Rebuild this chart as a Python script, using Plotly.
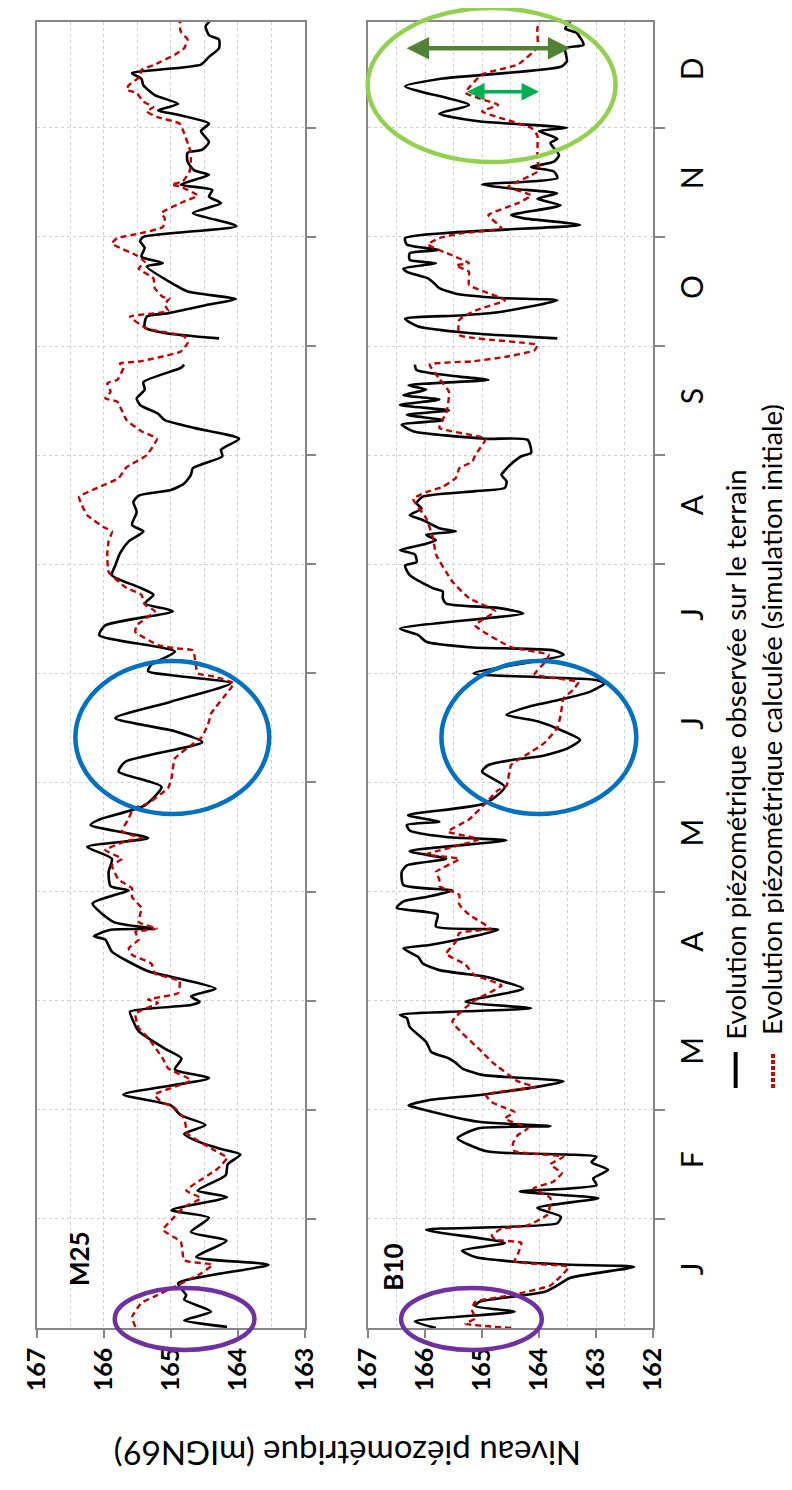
import plotly.graph_objects as go

# ---------------- data (time in months from 1 Jan, level in mIGN69) ----------------
months = ["J", "F", "M", "A", "M", "J", "J", "A", "S", "O", "N", "D"]
month_centres = [i + 0.5 for i in range(12)]
month_bounds = [i for i in range(1, 12)]

m25_ticks = [167, 166, 165, 164, 163]
b10_ticks = [167, 166, 165, 164, 163, 162]

m25_obs_t = [0.01, 0.07, 0.15, 0.26, 0.30, 0.41, 0.58, 0.65, 0.80, 0.88, 1.01, 1.08, 1.20, 1.26, 1.40,
             1.50, 1.59, 1.64, 1.71, 1.78, 1.86, 1.95, 2.04, 2.14, 2.29, 2.37, 2.47, 2.56, 2.72, 2.84,
             2.90, 2.96, 2.99, 3.04, 3.11, 3.22, 3.27, 3.45, 3.56, 3.59, 3.65, 3.66, 3.72, 3.89, 3.97,
             4.01, 4.05, 4.18, 4.30, 4.41, 4.49, 4.61, 4.66, 4.79, 4.96, 5.10, 5.19, 5.37, 5.47, 5.59,
             5.74, 5.91, 6.02, 6.08, 6.20, 6.35, 6.44, 6.57, 6.64, 6.72, 6.79, 6.90, 6.99, 7.10, 7.21,
             7.30, 7.36, 7.48, 7.57, 7.63, 7.68, 7.74, 7.82, 7.88, 7.99, 8.05, 8.15, 8.25, 8.32, 8.38,
             8.46, 8.52, 8.60, 8.67, 8.80, 8.83, None, 9.07, 9.12, 9.17, 9.27, 9.30, 9.38, 9.43, 9.50,
             9.56, 9.73, 9.76, 9.82, 9.90, 9.96, 10.00, 10.10, 10.22, 10.31, 10.37, 10.43, 10.48, 10.57,
             10.61, 10.69, 10.77, 10.80, 10.87, 10.97, 11.04, 11.12, 11.16, 11.22, 11.30, 11.39, 11.45,
             11.50, 11.58, 11.65, 11.73, 11.81, 11.85, 11.93, 11.99]
m25_obs_v = [164.16, 164.80, 164.40, 164.80, 164.77, 164.89, 163.54, 164.62, 164.17, 164.70, 164.43, 164.99,
             164.16, 164.60, 164.18, 164.15, 163.96, 164.25, 164.60, 164.80, 164.48, 164.85, 165.00, 165.71,
             164.43, 164.94, 164.84, 165.09, 165.48, 165.58, 165.61, 164.70, 164.57, 164.70, 164.33, 165.00,
             165.34, 165.88, 165.98, 166.15, 165.90, 165.26, 165.85, 166.17, 165.83, 165.63, 165.90, 165.93,
             165.88, 166.25, 165.34, 166.20, 166.07, 165.39, 165.14, 165.78, 165.68, 164.53, 164.94, 165.83,
             165.00, 164.11, 165.34, 165.29, 164.94, 166.07, 165.98, 164.97, 165.39, 165.26, 165.48, 165.88,
             165.83, 165.76, 165.63, 165.41, 165.58, 165.51, 165.56, 165.48, 165.00, 164.80, 164.70, 164.67,
             164.23, 164.25, 163.98, 164.65, 165.09, 165.19, 165.46, 165.51, 165.39, 165.41, 164.85, 164.80,
             None, 164.28, 165.09, 165.39, 165.36, 165.04, 164.43, 164.03, 164.75, 164.94, 165.36, 165.12,
             165.44, 165.39, 165.46, 165.41, 164.02, 164.67, 164.25, 164.43, 164.38, 164.85, 164.43, 164.65,
             164.75, 164.75, 164.53, 164.43, 164.55, 164.43, 164.89, 165.19, 164.89, 165.24, 165.41, 165.44,
             165.58, 164.55, 164.43, 164.28, 164.28, 164.43, 164.48, 164.40]

m25_sim_t = [0.01, 0.10, 0.23, 0.29, 0.38, 0.50, 0.58, 0.62, 0.79, 0.90, 0.99, 1.11, 1.19, 1.26, 1.46,
             1.56, 1.63, 1.78, 1.92, 2.03, 2.07, 2.14, 2.27, 2.38, 2.47, 2.66, 2.75, 2.88, 2.98, 3.01,
             3.07, 3.18, 3.25, 3.34, 3.42, 3.48, 3.56, 3.63, 3.66, 3.72, 3.85, 3.95, 4.03, 4.11, 4.24,
             4.30, 4.38, 4.46, 4.49, 4.55, 4.67, 4.76, 4.81, 4.95, 5.04, 5.22, 5.34, 5.42, 5.56, 5.63,
             5.86, 5.91, 5.97, 6.00, 6.05, 6.21, 6.23, 6.26, 6.38, 6.44, 6.57, 6.63, 6.72, 6.79, 6.93,
             7.09, 7.21, 7.30, 7.34, 7.45, 7.57, 7.62, 7.70, 7.79, 7.89, 8.00, 8.15, 8.22, 8.32, 8.49,
             8.52, 8.58, 8.66, 8.69, 8.80, 8.84, 8.86, 8.95, 9.03, 9.09, 9.16, 9.27, 9.32, 9.38, 9.44,
             9.45, 9.53, 9.62, 9.71, 9.77, 9.83, 9.94, 9.99, 10.03, 10.09, 10.17, 10.22, 10.32, 10.38,
             10.46, 10.48, 10.51, 10.60, 10.72, 10.81, 10.98, 11.04, 11.10, 11.15, 11.19, 11.24, 11.32,
             11.35, 11.39, 11.47, 11.53, 11.58, 11.67, 11.73, 11.81, 11.88, 11.96, 11.99]
m25_sim_v = [165.53, 165.58, 165.44, 165.24, 164.94, 164.55, 164.38, 164.80, 164.85, 165.12, 164.99, 164.80,
             164.55, 164.77, 164.30, 164.16, 164.35, 164.75, 164.80, 164.97, 165.14, 165.24, 164.70, 165.04,
             165.12, 165.34, 165.48, 165.53, 165.19, 165.34, 164.89, 164.87, 165.24, 165.29, 165.58, 165.63,
             165.48, 165.53, 165.21, 165.48, 165.44, 165.58, 165.58, 165.78, 165.88, 165.73, 165.98, 165.68,
             165.44, 165.73, 165.63, 165.56, 165.34, 165.04, 164.99, 164.94, 164.70, 164.53, 164.43, 164.40,
             164.11, 164.06, 164.35, 164.60, 164.62, 164.67, 164.94, 165.19, 165.53, 165.51, 165.24, 165.39,
             165.44, 165.68, 165.93, 165.95, 165.93, 165.88, 166.00, 166.25, 166.35, 166.37, 166.10, 165.78,
             165.66, 165.36, 165.21, 165.44, 165.66, 165.80, 165.98, 165.90, 165.95, 165.80, 165.71, 165.76,
             165.46, 164.85, 164.75, 164.80, 165.36, 165.61, 165.04, 165.09, 165.02, 165.12, 165.24, 165.26,
             165.48, 165.39, 165.51, 165.88, 165.80, 165.48, 165.12, 165.09, 165.14, 164.82, 164.60, 164.85,
             164.99, 164.82, 164.72, 164.70, 164.72, 164.82, 164.87, 165.21, 165.36, 165.26, 165.41, 165.51,
             165.66, 165.63, 165.46, 165.44, 165.24, 164.94, 164.80, 164.75, 164.85, 164.87, 164.82]

b10_obs_t = [0.00, 0.06, 0.15, 0.20, 0.24, 0.29, 0.33, 0.39, 0.46, 0.56, 0.58, 0.61, 0.65, 0.71, 0.78,
             0.90, 0.96, 1.02, 1.10, 1.19, 1.25, 1.31, 1.37, 1.45, 1.52, 1.57, 1.59, 1.62, 1.74, 1.83,
             1.85, 1.89, 2.01, 2.04, 2.09, 2.14, 2.26, 2.32, 2.38, 2.43, 2.47, 2.53, 2.62, 2.76, 2.84,
             2.87, 2.93, 2.99, 3.11, 3.19, 3.22, 3.28, 3.34, 3.40, 3.48, 3.51, 3.65, 3.68, 3.79, 3.85,
             3.91, 3.95, 4.01, 4.06, 4.18, 4.24, 4.30, 4.37, 4.47, 4.50, 4.56, 4.61, 4.64, 4.70, 4.81,
             4.96, 5.10, 5.16, 5.21, 5.24, 5.31, 5.39, 5.47, 5.56, 5.62, 5.70, 5.76, 5.83, 5.91, 5.94,
             6.00, 6.17, 6.21, 6.24, 6.29, 6.35, 6.41, 6.55, 6.60, 6.64, 6.69, 6.75, 6.78, 6.90, 6.99,
             7.02, 7.09, 7.13, 7.18, 7.22, 7.27, 7.30, 7.33, 7.41, 7.45, 7.51, 7.56, 7.62, 7.67, 7.70,
             7.76, 7.82, 7.86, 7.91, 7.99, 8.02, 8.14, 8.15, 8.22, 8.28, 8.32, 8.37, 8.41, 8.46, 8.51,
             8.55, 8.60, 8.64, 8.69, 8.72, 8.78, 8.83, None, 9.07, 9.12, 9.18, 9.25, 9.28, 9.31, 9.42,
             9.44, 9.48, 9.53, 9.57, 9.62, 9.68, 9.71, 9.76, 9.79, 9.85, 9.88, 9.93, 9.99, 10.11, 10.17,
             10.20, 10.29, 10.35, 10.40, 10.44, 10.48, 10.54, 10.60, 10.64, 10.69, 10.75, 10.86, 10.90,
             10.97, 11.00, 11.06, 11.13, 11.21, 11.38, 11.45, 11.56, 11.61, 11.73, 11.76, 11.87, 11.91,
             11.97]
b10_obs_v = [165.81, 166.18, 164.43, 165.12, 165.05, 164.43, 163.91, 163.68, 163.45, 162.33, 163.45, 164.49,
             165.12, 165.35, 164.60, 165.98, 163.68, 163.62, 164.03, 162.96, 164.34, 162.99, 163.05, 162.79,
             163.08, 162.99, 163.51, 164.92, 165.43, 165.06, 163.80, 165.06, 166.09, 166.29, 165.92, 164.97,
             163.57, 165.00, 165.35, 165.46, 165.58, 165.89, 165.98, 166.27, 166.32, 166.44, 164.14, 165.29,
             164.28, 164.72, 164.94, 165.75, 166.04, 166.12, 166.38, 165.92, 164.72, 165.81, 165.78, 166.50,
             166.38, 165.98, 165.52, 166.38, 166.41, 166.32, 165.63, 166.27, 164.57, 165.63, 166.27, 166.32,
             165.75, 166.30, 164.94, 164.60, 165.00, 164.89, 164.43, 163.97, 163.51, 163.28, 163.57, 164.03,
             164.57, 164.14, 163.62, 163.11, 162.85, 163.00, 165.15, 163.57, 163.74, 165.23, 165.98, 166.12,
             166.44, 164.28, 164.72, 165.63, 165.69, 165.69, 165.86, 166.27, 166.35, 166.15, 166.18, 166.44,
             166.04, 165.81, 165.98, 165.46, 165.75, 166.06, 166.27, 166.06, 166.15, 166.04, 165.12, 164.60,
             164.57, 164.66, 164.60, 164.51, 164.31, 164.14, 164.20, 164.94, 166.21, 166.41, 165.69, 166.32,
             165.58, 166.44, 165.75, 166.38, 165.98, 166.29, 164.89, 165.40, 166.15, 166.18, None, 163.68,
             165.23, 166.12, 166.35, 165.40, 164.72, 163.68, 164.66, 165.46, 165.75, 165.83, 165.95, 166.32,
             166.38, 165.81, 166.27, 166.27, 165.75, 166.32, 166.35, 163.28, 164.26, 164.49, 163.62, 164.03,
             163.68, 164.43, 165.00, 163.68, 163.74, 164.14, 163.74, 163.65, 163.80, 163.68, 164.00, 163.51,
             165.06, 165.75, 165.23, 166.35, 165.72, 163.62, 163.51, 163.54, 163.22, 163.34, 163.54, 163.45]

b10_sim_t = [0.00, 0.04, 0.09, 0.17, 0.24, 0.30, 0.39, 0.50, 0.56, 0.61, 0.68, 0.78, 0.81, 0.85, 0.91,
             0.94, 1.04, 1.19, 1.28, 1.34, 1.42, 1.50, 1.57, 1.62, 1.69, 1.77, 1.83, 1.92, 1.98, 2.03,
             2.07, 2.14, 2.21, 2.26, 2.44, 2.53, 2.81, 2.99, 3.14, 3.24, 3.33, 3.43, 3.54, 3.62, 3.66,
             3.79, 3.88, 3.97, 4.05, 4.11, 4.18, 4.30, 4.34, 4.48, 4.55, 4.66, 4.81, 4.93, 4.97, 5.16,
             5.28, 5.36, 5.50, 5.62, 5.77, 5.85, 5.92, 5.99, 6.10, 6.17, 6.24, 6.44, 6.57, 6.69, 6.84,
             7.09, 7.24, 7.42, 7.60, 7.66, 7.71, 7.79, 7.88, 7.94, 8.00, 8.15, 8.25, 8.40, 8.58, 8.70,
             8.83, 8.86, 8.90, 8.96, 9.01, 9.10, 9.24, 9.33, 9.42, 9.56, 9.68, 9.74, 9.76, 9.83, 9.93,
             9.99, 10.03, 10.08, 10.20, 10.31, 10.38, 10.46, 10.60, 10.78, 10.93, 11.00, 11.15, 11.21,
             11.32, 11.49, 11.58, 11.74, 11.91, 11.97]
b10_sim_v = [164.49, 165.29, 165.12, 165.18, 165.12, 164.49, 163.80, 163.57, 163.48, 164.43, 164.37, 164.31,
             164.77, 164.83, 164.66, 164.20, 163.85, 163.80, 164.10, 163.75, 163.60, 163.80, 163.57, 164.43,
             164.46, 164.37, 164.20, 164.60, 164.43, 164.66, 164.83, 164.94, 164.08, 164.37, 164.83, 165.00,
             165.52, 165.17, 164.66, 165.15, 165.29, 165.63, 165.46, 165.40, 164.86, 165.23, 165.40, 165.40,
             165.75, 165.75, 165.81, 165.40, 165.98, 165.06, 165.60, 165.23, 164.94, 164.72, 164.57, 164.49,
             164.14, 163.91, 163.68, 163.62, 163.57, 163.40, 163.31, 164.08, 163.90, 163.83, 164.49, 165.12,
             164.77, 165.23, 165.52, 165.81, 165.86, 165.98, 166.21, 165.98, 165.69, 165.46, 165.40, 165.17,
             165.12, 164.94, 165.75, 165.62, 165.58, 165.75, 165.92, 165.17, 164.60, 164.08, 164.03, 165.40,
             165.40, 165.10, 164.60, 165.23, 165.23, 165.46, 165.23, 165.52, 165.95, 165.75, 165.40, 164.66,
             164.89, 164.37, 164.14, 164.54, 164.03, 164.03, 164.03, 164.14, 165.00, 164.72, 165.29, 165.00,
             164.37, 164.03, 164.03, 164.00]

# annotation arrows (B10, December) : level range and time
dark_arrow = {"t": 11.73, "v_from": 166.35, "v_to": 163.45}
light_arrow = {"t": 11.33, "v_from": 165.29, "v_to": 164.00}

legend_obs = "Evolution piézométrique observée sur le terrain"
legend_sim = "Evolution piézométrique calculée (simulation initiale)"
axis_title = "Niveau piézométrique (mIGN69)"

# ---------------- figure ----------------
# the page adds an 8px body margin, so the figure is 8px smaller and every
# position below is given in window pixels (plot area: x 27..653, y 22..1328)
PAGE_OFF = 8
W, H = 792 - PAGE_OFF, 1490 - PAGE_OFF
PL, PR, PT, PB = 27, 653, 22, 1328
L, T = PL - PAGE_OFF, PT - PAGE_OFF
R, B = W - (PR - PAGE_OFF), H - (PB - PAGE_OFF)
pw, ph = PR - PL, PB - PT


def px(xpix):
    return (xpix - PL) / pw


def py(ypix):
    return (PB - ypix) / ph


BLACK = "#000000"
RED = "#C00000"
GRID = "#D0D0D0"
FRAME = "#868686"
FONT = "Lato"

fig = go.Figure()
fig.add_trace(go.Scatter(x=m25_obs_v, y=m25_obs_t, xaxis="x", yaxis="y", mode="lines",
                         line=dict(color=BLACK, width=2.6, shape="spline", smoothing=0.6),
                         connectgaps=False, showlegend=False))
fig.add_trace(go.Scatter(x=m25_sim_v, y=m25_sim_t, xaxis="x", yaxis="y", mode="lines",
                         line=dict(color=RED, width=2.4, dash="6px,4px", shape="spline", smoothing=0.4),
                         showlegend=False))
fig.add_trace(go.Scatter(x=b10_obs_v, y=b10_obs_t, xaxis="x2", yaxis="y2", mode="lines",
                         line=dict(color=BLACK, width=2.6, shape="spline", smoothing=0.6),
                         connectgaps=False, showlegend=False))
fig.add_trace(go.Scatter(x=b10_sim_v, y=b10_sim_t, xaxis="x2", yaxis="y2", mode="lines",
                         line=dict(color=RED, width=2.4, dash="6px,4px", shape="spline", smoothing=0.4),
                         showlegend=False))

value_axis_common = dict(
    tickangle=-90, ticks="outside", ticklen=8, tickcolor=FRAME, tickwidth=1.5,
    tickfont=dict(family=FONT, size=25, color=BLACK, weight="bold"),
    showline=True, linecolor=FRAME, linewidth=1.5, mirror=True,
    showgrid=True, gridcolor=GRID, griddash="dot", gridwidth=1,
    minor=dict(dtick=0.5, showgrid=True, gridcolor=GRID, griddash="dot", gridwidth=1, ticks=""),
    zeroline=False, fixedrange=True,
)
time_axis_common = dict(
    range=[0, 11.97], side="right", showline=True, linecolor=FRAME, linewidth=1.5, mirror=True,
    showgrid=False, zeroline=False, ticks="",
    minor=dict(tickvals=month_bounds, ticks="outside", ticklen=10, tickcolor=FRAME, tickwidth=1.5,
               showgrid=True, gridcolor=GRID, griddash="dot", gridwidth=1),
)

fig.update_layout(
    width=W, height=H, margin=dict(l=L, r=R, t=T, b=B, pad=0),
    paper_bgcolor="white", plot_bgcolor="white",
    xaxis=dict(domain=[0, px(299)], range=[167, 163], tickvals=m25_ticks,
               ticktext=[str(v) for v in m25_ticks], anchor="y", **value_axis_common),
    xaxis2=dict(domain=[px(363.5), 1], range=[167, 162], tickvals=b10_ticks,
                ticktext=[str(v) for v in b10_ticks], anchor="y2", **value_axis_common),
    yaxis=dict(anchor="x", showticklabels=False, tickvals=month_centres, **time_axis_common),
    yaxis2=dict(anchor="x2", tickvals=month_centres, ticktext=months, tickangle=-90,
                ticklabelstandoff=12,
                tickfont=dict(family=FONT, size=30, color=BLACK), **time_axis_common),
)

# ellipses
shapes = []


def ellipse(x0, x1, y0, y1, color, width=4.5):
    shapes.append(dict(type="circle", xref="paper", yref="paper",
                       x0=px(x0), x1=px(x1), y0=py(y1), y1=py(y0),
                       line=dict(color=color, width=width), layer="above"))


ellipse(106, 248, 1288, 1350, "#7030A0")
ellipse(397, 540, 1288, 1350, "#7030A0")
ellipse(66, 263, 661, 814, "#0070C0")
ellipse(438, 636, 661, 814, "#0070C0")
ellipse(363, 615, 8, 162, "#92D050")

# legend samples
shapes.append(dict(type="line", xref="paper", yref="paper", x0=px(737), x1=px(737),
                   y0=py(1088), y1=py(1052), line=dict(color=BLACK, width=4)))
shapes.append(dict(type="line", xref="paper", yref="paper", x0=px(775), x1=px(775),
                   y0=py(1088), y1=py(1052), line=dict(color=RED, width=4, dash="4px,2px")))
fig.update_layout(shapes=shapes)

ann = []
ann.append(dict(xref="paper", yref="paper", x=px(51), y=py(1288), text="<b>M25</b>", showarrow=False,
                textangle=-90, font=dict(family=FONT, size=26, color=BLACK)))
ann.append(dict(xref="paper", yref="paper", x=px(388), y=py(1293), text="<b>B10</b>", showarrow=False,
                textangle=-90, font=dict(family=FONT, size=26, color=BLACK)))
ann.append(dict(xref="paper", yref="paper", x=px(342), y=py(1476), text=axis_title, showarrow=False,
                textangle=180, font=dict(family=FONT, size=33, color=BLACK)))
ann.append(dict(xref="paper", yref="paper", x=px(736), y=py(755), text=legend_obs, showarrow=False,
                textangle=-90, xanchor="center", yanchor="middle",
                font=dict(family=FONT, size=27.5, color=BLACK)))
ann.append(dict(xref="paper", yref="paper", x=px(773), y=py(720), text=legend_sim, showarrow=False,
                textangle=-90, xanchor="center", yanchor="middle",
                font=dict(family=FONT, size=27.5, color=BLACK)))
for arr, col, w in [(dark_arrow, "#548235", 4.5), (light_arrow, "#00B050", 3.5)]:
    ann.append(dict(xref="x2", yref="y2", axref="x2", ayref="y2",
                    x=arr["v_to"], y=arr["t"], ax=arr["v_from"], ay=arr["t"],
                    text="", showarrow=True, arrowhead=2, startarrowhead=2, arrowside="end+start",
                    arrowsize=1.0, startarrowsize=1.0, arrowwidth=w, arrowcolor=col))
fig.update_layout(annotations=ann)

fig.write_html("out.html")
